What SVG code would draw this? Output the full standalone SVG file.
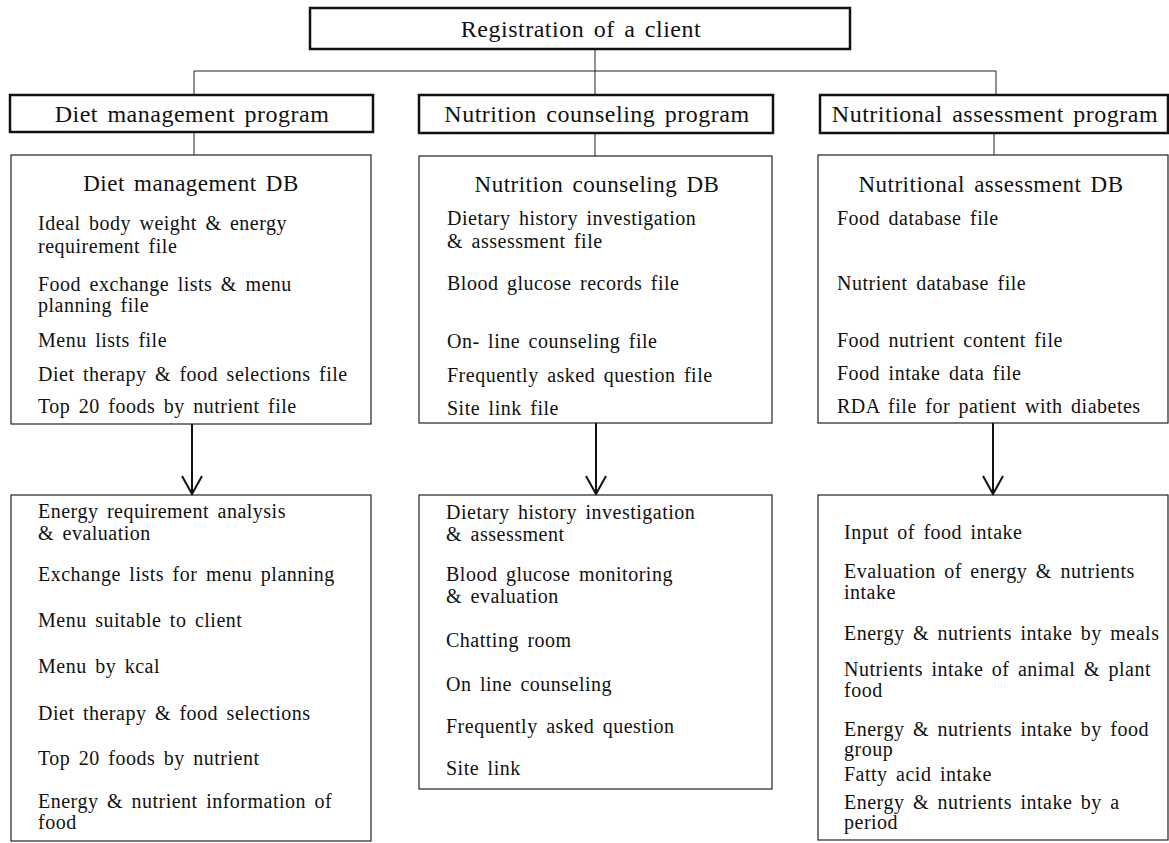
<svg xmlns="http://www.w3.org/2000/svg" width="1169" height="843" viewBox="0 0 1169 843">
<style>
.bg{fill:#ffffff}
.prog{fill:none;stroke:#111;stroke-width:2.5}
.box{fill:none;stroke:#222;stroke-width:1.2}
.ln{fill:none;stroke:#222;stroke-width:1}
.arr{fill:none;stroke:#111;stroke-width:2}
.h{font-family:"Liberation Serif","Times New Roman",serif;font-size:24px;letter-spacing:0.5px;word-spacing:3px;fill:#111;text-anchor:middle}
.db{font-family:"Liberation Serif","Times New Roman",serif;font-size:23px;letter-spacing:0.5px;word-spacing:3px;fill:#111;text-anchor:middle}
.t{font-family:"Liberation Serif","Times New Roman",serif;font-size:20px;letter-spacing:0.5px;word-spacing:3px;fill:#111}
</style>
<defs>
<marker id="vh" markerUnits="userSpaceOnUse" markerWidth="22" markerHeight="24" refX="20" refY="11" orient="auto" viewBox="0 0 22 22">
<path d="M2,1 L20,11 L2,21" fill="none" stroke="#111" stroke-width="2"/>
</marker>
</defs>
<rect class="bg" x="0" y="0" width="1169" height="843"/>

<g id="connectors">
<line class="ln" x1="595" y1="49" x2="595" y2="95"/>
<line class="ln" x1="194" y1="71" x2="996" y2="71"/>
<line class="ln" x1="194" y1="71" x2="194" y2="95"/>
<line class="ln" x1="996" y1="71" x2="996" y2="95"/>
<line class="ln" x1="194" y1="132" x2="194" y2="155"/>
<line class="ln" x1="595" y1="133" x2="595" y2="156"/>
<line class="ln" x1="994" y1="133" x2="994" y2="155"/>
<line class="arr" x1="192" y1="424" x2="192" y2="494" marker-end="url(#vh)"/>
<line class="arr" x1="596" y1="423" x2="596" y2="494" marker-end="url(#vh)"/>
<line class="arr" x1="993" y1="423" x2="993" y2="494" marker-end="url(#vh)"/>
</g>

<g id="registration">
<rect class="prog" x="310" y="8" width="540" height="41"/>
<text class="h" x="581" y="37">Registration of a client</text>
</g>

<g id="diet-program">
<rect class="prog" x="10" y="95" width="363" height="37"/>
<text class="h" x="192" y="122">Diet management program</text>
</g>
<g id="counseling-program">
<rect class="prog" x="419" y="95" width="354" height="38"/>
<text class="h" x="597" y="122">Nutrition counseling program</text>
</g>
<g id="assessment-program">
<rect class="prog" x="820" y="95" width="348" height="38"/>
<text class="h" x="995" y="122">Nutritional assessment program</text>
</g>

<g id="diet-db">
<rect class="box" x="11" y="155" width="360" height="269"/>
<text class="db" x="191" y="191">Diet management DB</text>
<text class="t" x="38" y="230">Ideal body weight &amp; energy</text>
<text class="t" x="38" y="253">requirement file</text>
<text class="t" x="38" y="291">Food exchange lists &amp; menu</text>
<text class="t" x="38" y="312">planning file</text>
<text class="t" x="38" y="347">Menu lists file</text>
<text class="t" x="38" y="381">Diet therapy &amp; food selections file</text>
<text class="t" x="38" y="413">Top 20 foods by nutrient file</text>
</g>

<g id="counseling-db">
<rect class="box" x="419" y="156" width="353" height="267"/>
<text class="db" x="597" y="192">Nutrition counseling DB</text>
<text class="t" x="447" y="225">Dietary history investigation</text>
<text class="t" x="447" y="248">&amp; assessment file</text>
<text class="t" x="447" y="290">Blood glucose records file</text>
<text class="t" x="447" y="348">On- line counseling file</text>
<text class="t" x="447" y="382">Frequently asked question file</text>
<text class="t" x="447" y="415">Site link file</text>
</g>

<g id="assessment-db">
<rect class="box" x="818" y="155" width="350" height="268"/>
<text class="db" x="991" y="192">Nutritional assessment DB</text>
<text class="t" x="837" y="225">Food database file</text>
<text class="t" x="837" y="290">Nutrient database file</text>
<text class="t" x="837" y="347">Food nutrient content file</text>
<text class="t" x="837" y="380">Food intake data file</text>
<text class="t" x="837" y="413">RDA file for patient with diabetes</text>
</g>

<g id="diet-functions">
<rect class="box" x="11" y="495" width="360" height="346"/>
<text class="t" x="38" y="518">Energy requirement analysis</text>
<text class="t" x="38" y="540">&amp; evaluation</text>
<text class="t" x="38" y="581">Exchange lists for menu planning</text>
<text class="t" x="38" y="627">Menu suitable to client</text>
<text class="t" x="38" y="673">Menu by kcal</text>
<text class="t" x="38" y="720">Diet therapy &amp; food selections</text>
<text class="t" x="38" y="765">Top 20 foods by nutrient</text>
<text class="t" x="38" y="808">Energy &amp; nutrient information of</text>
<text class="t" x="38" y="829">food</text>
</g>

<g id="counseling-functions">
<rect class="box" x="419" y="495" width="353" height="294"/>
<text class="t" x="446" y="519">Dietary history investigation</text>
<text class="t" x="446" y="541">&amp; assessment</text>
<text class="t" x="446" y="581">Blood glucose monitoring</text>
<text class="t" x="446" y="603">&amp; evaluation</text>
<text class="t" x="446" y="647">Chatting room</text>
<text class="t" x="446" y="691">On line counseling</text>
<text class="t" x="446" y="733">Frequently asked question</text>
<text class="t" x="446" y="775">Site link</text>
</g>

<g id="assessment-functions">
<rect class="box" x="818" y="495" width="350" height="345"/>
<text class="t" x="844" y="539">Input of food intake</text>
<text class="t" x="844" y="578">Evaluation of energy &amp; nutrients</text>
<text class="t" x="844" y="599">intake</text>
<text class="t" x="844" y="640">Energy &amp; nutrients intake by meals</text>
<text class="t" x="844" y="676">Nutrients intake of animal &amp; plant</text>
<text class="t" x="844" y="697">food</text>
<text class="t" x="844" y="736">Energy &amp; nutrients intake by food</text>
<text class="t" x="844" y="756">group</text>
<text class="t" x="844" y="781">Fatty acid intake</text>
<text class="t" x="844" y="809">Energy &amp; nutrients intake by a</text>
<text class="t" x="844" y="829">period</text>
</g>
</svg>
